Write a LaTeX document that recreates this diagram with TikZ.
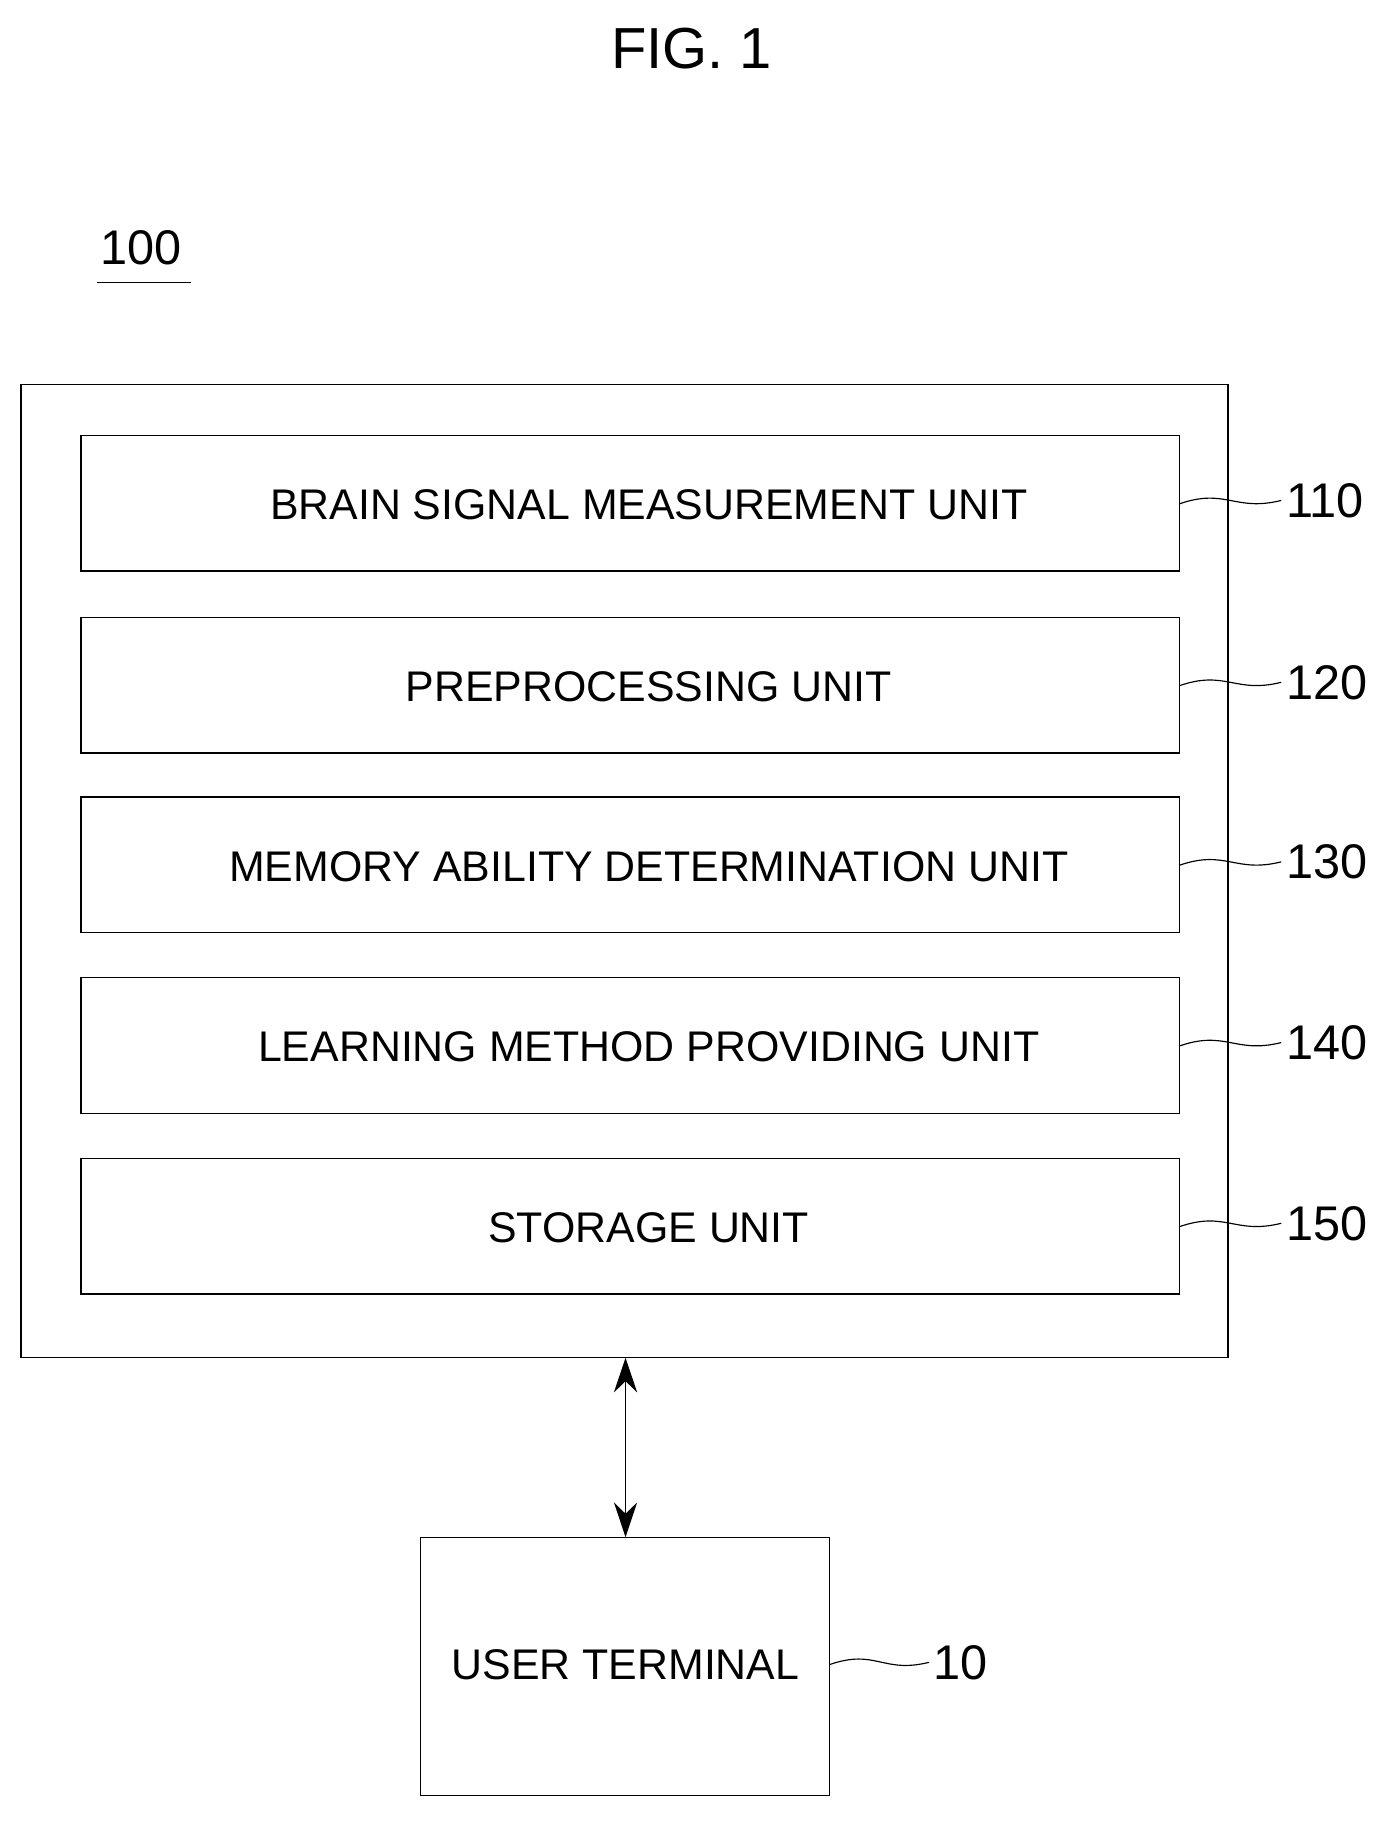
\documentclass[tikz,border=0pt]{standalone}
\usepackage{fontspec}
\setmainfont{Liberation Sans}
\usetikzlibrary{arrows.meta}
\begin{document}
\begin{tikzpicture}[x=1pt,y=-1pt,
  box/.style={draw,line width=1.2pt,inner sep=0pt},
  txt/.style={font=\fontsize{37}{37}\selectfont},
  lead/.style={line width=1pt},
  num/.style={font=\fontsize{42}{42}\selectfont,anchor=west,inner sep=0pt}]
\useasboundingbox (0,0) rectangle (1200,1572);
\node[font=\fontsize{50}{50}\selectfont] (fig) at (597,42) {FIG. 1};
\node[font=\fontsize{42}{42}\selectfont] (n100) at (122,214) {100};
\coordinate (u1) at (84,244); \coordinate (u2) at (165,244);
\draw[line width=1pt] (u1) -- (u2);
\draw[box] (18,332) rectangle (1060,1172);
\coordinate (outS) at (540,1172);
\foreach \y/\t/\n [count=\i] in {376/BRAIN SIGNAL MEASUREMENT UNIT/110,533/PREPROCESSING UNIT/120,688/MEMORY ABILITY DETERMINATION UNIT/130,844/LEARNING METHOD PROVIDING UNIT/140,1000/STORAGE UNIT/150}{
  \draw[box] (70,\y) rectangle (1018,\y+117);
  \node[txt] (b\i) at (560,\y+60) {\t};
  \coordinate (e\i) at (1018,\y+59);
  \node[num] (l\i) at (1110,\y+56) {\n};
  \draw[lead] (e\i) .. controls ++(40,-14) and ++(-40,10) .. ([xshift=-4pt]l\i.west);
}
\draw[box] (363,1327) rectangle (716,1550);
\node[txt] (ut) at (540,1437) {USER TERMINAL};
\coordinate (utN) at (540,1327);
\coordinate (utE) at (716,1437);
\node[num] (l10) at (806,1435) {10};
\draw[lead] (utE) .. controls ++(40,-14) and ++(-40,10) .. ([xshift=-4pt]l10.west);
\draw[line width=1.2pt,{Stealth[length=30pt,width=20pt]}-{Stealth[length=30pt,width=20pt]}] (outS) -- (utN);
\end{tikzpicture}
\end{document}
